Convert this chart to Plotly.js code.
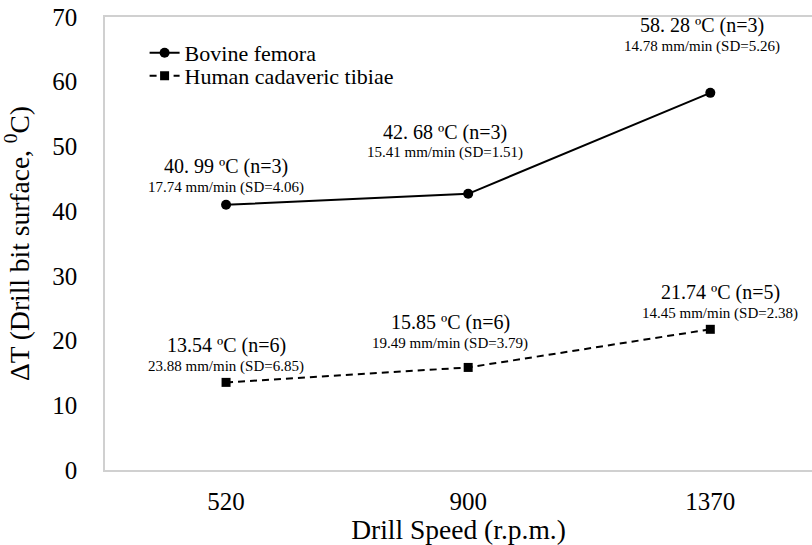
<!DOCTYPE html>
<html>
<head>
<meta charset="utf-8">
<script src="https://cdn.plot.ly/plotly-3.0.1.min.js"></script>
<style>html,body{margin:0;padding:0;background:#fff;}#chart{width:812px;height:545px;}</style>
</head>
<body>
<div id="chart"></div>
<script>
const categories = ['520', '900', '1370'];
const bovine = [40.99, 42.68, 58.28];
const human = [13.54, 15.85, 21.74];
const bovineTemp = ['40. 99 ºC (n=3)', '42. 68 ºC (n=3)', '58. 28 ºC (n=3)'];
const bovineRate = ['17.74 mm/min (SD=4.06)', '15.41 mm/min (SD=1.51)', '14.78 mm/min (SD=5.26)'];
const humanTemp = ['13.54 ºC (n=6)', '15.85 ºC (n=6)', '21.74 ºC (n=5)'];
const humanRate = ['23.88 mm/min (SD=6.85)', '19.49 mm/min (SD=3.79)', '14.45 mm/min (SD=2.38)'];
const seriesNames = ['Bovine femora', 'Human cadaveric tibiae'];

const FONT = 'Liberation Serif';

// label offsets in px relative to each marker: [xshift, line1 yshift, line2 yshift]
const bovOff = [[0, 38, 17], [-23, 61, 41], [-8, 67, 46]];
const humOff = [[0, 37, 16], [-18, 45, 24], [10, 37, 16]];

const traces = [
  {x: categories, y: bovine, name: seriesNames[0], type: 'scatter', mode: 'lines+markers', legend: 'legend',
   line: {color: '#000', width: 2}, marker: {symbol: 'circle', size: 10, color: '#000'}},
  {x: categories, y: human, name: seriesNames[1], type: 'scatter', mode: 'lines+markers', legend: 'legend2',
   line: {color: '#000', width: 2, dash: '7px,5px'}, marker: {symbol: 'square', size: 9, color: '#000'}}
];

const annotations = [];
function addLabel(i, y, off, t, r) {
  annotations.push({x: i, y: y, xref: 'x', yref: 'y', text: t, showarrow: false,
    xshift: off[0], yshift: off[1], font: {family: FONT, size: 20, color: '#000'}});
  annotations.push({x: i, y: y, xref: 'x', yref: 'y', text: r, showarrow: false,
    xshift: off[0], yshift: off[2], font: {family: FONT, size: 15, color: '#000'}});
}
categories.forEach((c, i) => {
  addLabel(i, bovine[i], bovOff[i], bovineTemp[i], bovineRate[i]);
  addLabel(i, human[i], humOff[i], humanTemp[i], humanRate[i]);
});

const legFont = {family: FONT, size: 22, color: '#000'};
const layout = {
  width: 812, height: 545,
  margin: {l: 105, r: 0, t: 17, b: 75},
  paper_bgcolor: '#fff', plot_bgcolor: '#fff',
  font: {family: FONT, color: '#000'},
  showlegend: true,
  legend: {x: 0.056, y: 0.967, xanchor: 'left', yanchor: 'top', bgcolor: 'rgba(0,0,0,0)', font: legFont},
  legend2: {x: 0.056, y: 0.916, xanchor: 'left', yanchor: 'top', bgcolor: 'rgba(0,0,0,0)', font: legFont},
  xaxis: {type: 'category', range: [-0.5, 2.42], showgrid: false, zeroline: false,
          showline: true, mirror: true, linecolor: '#d0d0d0', linewidth: 1.5, ticks: '',
          tickfont: {family: FONT, size: 25, color: '#000'}, ticklabelstandoff: 8,
          title: {text: 'Drill Speed (r.p.m.)', font: {family: FONT, size: 27.5, color: '#000'}, standoff: 6}},
  yaxis: {range: [0, 70], dtick: 10, showgrid: false, zeroline: false,
          showline: true, linecolor: '#d0d0d0', linewidth: 1.5, ticks: '',
          tickfont: {family: FONT, size: 25, color: '#000'}, ticklabelstandoff: 21,
          title: {text: 'ΔT (Drill bit surface, <sup>0</sup>C)', font: {family: FONT, size: 27.5, color: '#000'}, standoff: 16}},
  annotations: annotations
};

Plotly.newPlot('chart', traces, layout, {displayModeBar: false});
</script>
</body>
</html>
